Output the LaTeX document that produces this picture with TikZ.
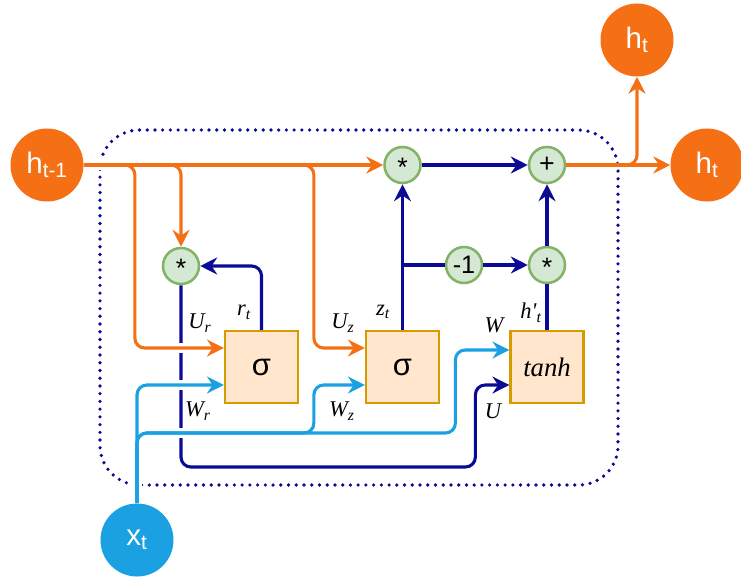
\documentclass[tikz,border=0pt]{standalone}
\usepackage{fontspec}
\setmainfont{Liberation Sans}
\newfontfamily\lblfont{Liberation Serif}
\usetikzlibrary{arrows.meta,calc}

\definecolor{hcol}{RGB}{245,112,20}
\definecolor{xcol}{RGB}{27,161,226}
\definecolor{ncol}{RGB}{10,10,150}
\definecolor{opfill}{RGB}{213,232,212}
\definecolor{opdraw}{RGB}{130,179,102}
\definecolor{gatefill}{RGB}{255,230,204}
\definecolor{gatedraw}{RGB}{215,155,0}

\newcommand{\opstar}{\raisebox{-0.2em}[0.45em][0pt]{*}}

\begin{document}
\begin{tikzpicture}[x=0.025cm, y=-0.025cm,
    io/.style={circle, minimum size=1.825cm, inner sep=0pt, text=white,
               font=\fontsize{21}{24}\selectfont},
    op/.style={circle, draw=opdraw, fill=opfill, line width=1.8pt, minimum size=0.9cm,
               inner sep=0pt, font=\fontsize{19}{21}\selectfont},
    gate/.style={draw=gatedraw, fill=gatefill, line width=1.6pt, minimum width=1.825cm,
                 minimum height=1.8cm, font=\fontsize{22}{24}\selectfont},
    wire/.style={line width=2.2pt, rounded corners=7pt,
                 -{Stealth[length=12pt,width=12pt,inset=4pt]}},
    gap/.style={draw=white, line width=7pt, rounded corners=7pt, shorten >=5pt},
    lbl/.style={font=\lblfont\itshape\fontsize{16}{18}\selectfont}
]
\useasboundingbox (0,0) rectangle (741,578);
\draw[ncol, line width=2.6pt, line cap=round, dash pattern=on 0pt off 5.5pt,
      rounded corners=28pt] (100,130) rectangle (618,485);

\node[io, fill=hcol] (hprev) at (47,165) {h\textsubscript{t-1}};
\node[io, fill=hcol] (htop) at (637,40) {h\textsubscript{t}};
\node[io, fill=hcol] (hnext) at (707,165) {h\textsubscript{t}};
\node[io, fill=xcol] (xt) at (137,540) {x\textsubscript{t}};

\node[op] (mulr) at (181,266) {\opstar};
\node[op] (mulz) at (402.5,165) {\opstar};
\node[op] (add) at (547,165) {+};
\node[op, font=\fontsize{18}{20}\selectfont] (neg) at (464,265) {-1};
\node[op] (mulh) at (547,265) {\opstar};

\node[gate] (sigr) at (261.5,367) {σ};
\node[gate] (sigz) at (402.5,367) {σ};
\node[gate, font=\lblfont\itshape\fontsize{19}{21}\selectfont] (cand) at (547,367) {tanh};

\coordinate (ur) at ($(sigr.west)+(0,-19)$);
\coordinate (wr) at ($(sigr.west)+(0,18)$);
\coordinate (uz) at ($(sigz.west)+(0,-19)$);
\coordinate (wz) at ($(sigz.west)+(0,18)$);
\coordinate (wh) at ($(cand.west)+(0,-17)$);
\coordinate (uh) at ($(cand.west)+(0,18)$);

\draw[ncol, wire] (sigr.north) |- (mulr.east);
\draw[ncol, wire] (mulr.south) |- ($(uh)+(-34,82)$) |- (uh);
\draw[ncol, wire] (sigz.north) -- (mulz.south);
\draw[ncol, wire, -] (sigz.north |- neg) -- (neg.west);
\draw[ncol, wire] (neg) -- (mulh);
\draw[ncol, wire, -] (cand.north) -- (mulh.south);
\draw[ncol, wire] (mulh) -- (add);
\draw[ncol, wire] (mulz) -- (add);

\foreach \s in {gap,wire}{
  \draw[hcol, \s] (hprev.east) -| ($(ur)-(89,0)$) -- (ur);
  \draw[xcol, \s] (xt.north) |- (wr);
  \draw[xcol, \s] (xt.north) |- ($(wz)+(-51,48)$) |- (wz);
  \draw[xcol, \s] (xt.north) |- ($(wh)+(-54,83)$) |- (wh);
}
\draw[hcol, wire] (hprev) -- (mulz);
\draw[hcol, wire] (hprev.east) -| (mulr.north);
\draw[hcol, wire] (hprev.east) -| ($(uz)-(51,0)$) -- (uz);
\draw[hcol, wire] (add) -- (hnext);
\draw[hcol, wire] (add.east) -| (htop.south);

\node[lbl] (lur) at (200,323) {U\textsubscript{r}};
\node[lbl] (lrt) at (244,312) {r\textsubscript{t}};
\node[lbl] (luz) at (343,323) {U\textsubscript{z}};
\node[lbl] (lzt) at (383,312) {z\textsubscript{t}};
\node[lbl] (lw) at (494,325) {W};
\node[lbl] (lht) at (531,313) {h'\textsubscript{t}};
\node[lbl] (lwr) at (198,411) {W\textsubscript{r}};
\node[lbl] (lwz) at (342,411) {W\textsubscript{z}};
\node[lbl] (lu) at (493,411) {U};
\end{tikzpicture}
\end{document}
